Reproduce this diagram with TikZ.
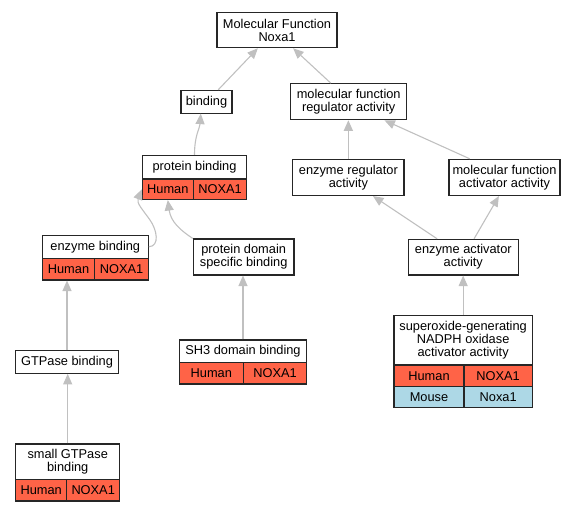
\documentclass[tikz,border=0pt]{standalone}
\usepackage{fontspec}
\setmainfont{Liberation Sans}
\usetikzlibrary{arrows.meta,calc}
\definecolor{hum}{HTML}{FF6347}
\definecolor{mou}{HTML}{ADD8E6}
\definecolor{edgegray}{HTML}{C0C0C0}
\begin{document}
\begin{tikzpicture}[x=1pt,y=-1pt,
 box/.style={draw=black!85,line width=1.1pt,fill=white,inner sep=0pt,align=center,font=\fontsize{12.8}{13}\selectfont},
 hcell/.style={box,fill=hum},
 mcell/.style={box,fill=mou},
 sz/.style 2 args={minimum width=#1pt,minimum height=#2pt},
 edge/.style={draw=edgegray,line width=1.1pt,-{Triangle[length=10.5pt,width=9pt]}}]
\useasboundingbox (0,0) rectangle (580,512);
\node[box,sz={120}{35.4}] (mf) at (277,30) {Molecular Function\\Noxa1};
\node[box,sz={51}{22.7}] (bind) at (206.5,101.7) {binding};
\node[box,sz={116}{36}] (mfra) at (348.7,101.7) {molecular function\\regulator activity};
\node[box,sz={104.4}{23.5}] (pb) at (194.5,167.25) {protein binding};
\node[hcell,sz={51}{20.5}] (pbh) at (167.8,189.25) {Human};
\node[hcell,sz={53.4}{20.5}] (pbn) at (220,189.25) {NOXA1};
\node[box,sz={106}{23}] (eb) at (95.3,246.8) {enzyme binding};
\node[hcell,sz={52.4}{21.7}] (ebh) at (68.5,269.15) {Human};
\node[hcell,sz={53.6}{21.7}] (ebn) at (121.5,269.15) {NOXA1};
\node[box,sz={100.7}{36}] (pdsb) at (243.65,257) {protein domain\\specific binding};
\node[box,sz={102.6}{22.6}] (gtp) at (67,362) {GTPase binding};
\node[box,sz={104}{35.3}] (sgb) at (67.7,461.65) {small GTPase\\binding};
\node[hcell,sz={51}{21.7}] (sgbh) at (41.2,490.15) {Human};
\node[hcell,sz={53}{21.7}] (sgbn) at (93.2,490.15) {NOXA1};
\node[box,sz={127.4}{22.3}] (sh3) at (243,351.15) {SH3 domain binding};
\node[hcell,sz={64}{21.7}] (sh3h) at (211.3,373.15) {Human};
\node[hcell,sz={63.4}{21.7}] (sh3n) at (275,373.15) {NOXA1};
\node[box,sz={111.3}{36.2}] (era) at (348.35,177.4) {enzyme regulator\\activity};
\node[box,sz={111}{36.2}] (mfaa) at (504.5,177.4) {molecular function\\activator activity};
\node[box,sz={110}{35.7}] (eaa) at (463.3,257.15) {enzyme activator\\activity};
\node[box,sz={138.3}{49.7}] (so) at (463.15,340.15) {superoxide-generating\\NADPH oxidase\\activator activity};
\node[hcell,sz={70}{21.7}] (soh) at (429,375.85) {Human};
\node[hcell,sz={68.3}{21.7}] (son) at (498.15,375.85) {NOXA1};
\node[mcell,sz={70}{21}] (som) at (429,397.2) {Mouse};
\node[mcell,sz={68.3}{21}] (sok) at (498.15,397.2) {Noxa1};
% edges
\draw[edge] ($(bind.north west)!0.725!(bind.north east)$) -- ($(mf.south west)!0.342!(mf.south east)$);
\draw[edge] ($(mfra.north west)!0.347!(mfra.north east)$) -- ($(mf.south west)!0.633!(mf.south east)$);
\draw[edge] (pb.north) .. controls +(0,-20) and +(-1,15) .. ($(bind.south west)!0.39!(bind.south east)$);
\draw[edge] (eb.east) .. controls (160,246) and (157,230) .. (150,220) .. controls (143,210) and (136.3,203.2) .. (pbh.west);
\draw[edge] (pdsb.north west) .. controls +(-12,-8) and +(3,22) .. (pbh.south);
\draw[edge] (gtp.north) -- (gtp.north |- ebh.south);
\draw[edge] (sgb.north) -- (sgb.north |- gtp.south);
\draw[edge] (sh3.north) -- (sh3.north |- pdsb.south);
\draw[edge] (era.north) -- (era.north |- mfra.south);
\draw[edge] ($(mfaa.north west)!0.189!(mfaa.north east)$) -- ($(mfra.south west)!0.805!(mfra.south east)$);
\draw[edge] ($(eaa.north west)!0.264!(eaa.north east)$) -- ($(era.south west)!0.719!(era.south east)$);
\draw[edge] ($(eaa.north west)!0.597!(eaa.north east)$) -- ($(mfaa.south west)!0.45!(mfaa.south east)$);
\draw[edge] (so.north) -- (so.north |- eaa.south);
\end{tikzpicture}
\end{document}
